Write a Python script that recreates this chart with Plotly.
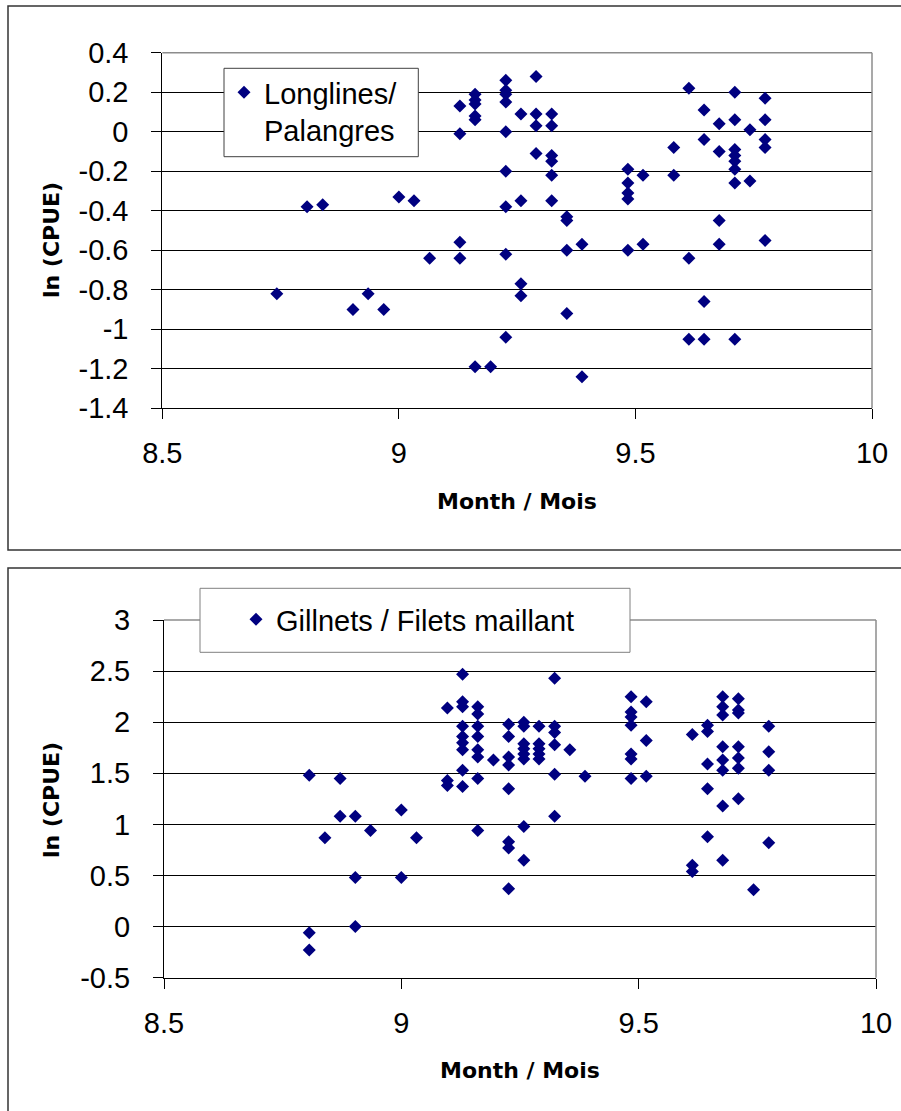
import plotly.graph_objects as go

W, H = 901, 1111

# ---- Data: Longlines / Palangres ----
ll_month = [8.742, 8.806, 8.839, 8.903, 8.935, 8.968, 9.0, 9.032, 9.065,
            9.129, 9.129, 9.129, 9.129,
            9.161, 9.161, 9.161, 9.161, 9.161, 9.161,
            9.194,
            9.226, 9.226, 9.226, 9.226, 9.226, 9.226, 9.226, 9.226, 9.226,
            9.258, 9.258, 9.258, 9.258,
            9.290, 9.290, 9.290, 9.290,
            9.323, 9.323, 9.323, 9.323, 9.323, 9.323,
            9.355, 9.355, 9.355, 9.355,
            9.387, 9.387,
            9.484, 9.484, 9.484, 9.484, 9.484,
            9.516, 9.516,
            9.581, 9.581,
            9.613, 9.613, 9.613,
            9.645, 9.645, 9.645, 9.645,
            9.677, 9.677, 9.677, 9.677,
            9.710, 9.710, 9.710, 9.710, 9.710, 9.710, 9.710, 9.710,
            9.742, 9.742,
            9.774, 9.774, 9.774, 9.774, 9.774]
ll_lncpue = [-0.82, -0.38, -0.37, -0.90, -0.82, -0.90, -0.33, -0.35, -0.64,
             0.13, -0.01, -0.56, -0.64,
             0.19, 0.16, 0.14, 0.08, 0.06, -1.19,
             -1.19,
             0.26, 0.21, 0.19, 0.15, 0.00, -0.20, -0.38, -0.62, -1.04,
             0.09, -0.35, -0.77, -0.83,
             0.28, 0.09, 0.03, -0.11,
             0.09, 0.03, -0.12, -0.15, -0.22, -0.35,
             -0.43, -0.45, -0.60, -0.92,
             -0.57, -1.24,
             -0.19, -0.26, -0.31, -0.34, -0.60,
             -0.22, -0.57,
             -0.08, -0.22,
             0.22, -0.64, -1.05,
             0.11, -0.04, -0.86, -1.05,
             0.04, -0.10, -0.45, -0.57,
             0.20, 0.06, -0.09, -0.12, -0.15, -0.19, -0.26, -1.05,
             0.01, -0.25,
             0.17, 0.06, -0.04, -0.08, -0.55]

# ---- Data: Gillnets / Filets maillant ----
gn_month = [8.806, 8.806, 8.806, 8.839, 8.871, 8.871,
            8.903, 8.903, 8.903, 8.935, 9.0, 9.0, 9.032,
            9.097, 9.097, 9.097,
            9.129, 9.129, 9.129, 9.129, 9.129, 9.129, 9.129, 9.129, 9.129,
            9.161, 9.161, 9.161, 9.161, 9.161, 9.161, 9.161, 9.161,
            9.194,
            9.226, 9.226, 9.226, 9.226, 9.226, 9.226, 9.226, 9.226,
            9.258, 9.258, 9.258, 9.258, 9.258, 9.258, 9.258, 9.258,
            9.290, 9.290, 9.290, 9.290, 9.290,
            9.323, 9.323, 9.323, 9.323, 9.323, 9.323,
            9.355, 9.387,
            9.484, 9.484, 9.484, 9.484, 9.484, 9.484, 9.484,
            9.516, 9.516, 9.516,
            9.613, 9.613, 9.613,
            9.645, 9.645, 9.645, 9.645, 9.645,
            9.677, 9.677, 9.677, 9.677, 9.677, 9.677, 9.677, 9.677,
            9.710, 9.710, 9.710, 9.710, 9.710, 9.710, 9.710,
            9.742,
            9.774, 9.774, 9.774, 9.774]
gn_lncpue = [1.48, -0.06, -0.23, 0.87, 1.45, 1.08,
             1.08, 0.48, 0.00, 0.94, 1.14, 0.48, 0.87,
             2.14, 1.43, 1.38,
             2.47, 2.20, 2.15, 1.96, 1.86, 1.80, 1.73, 1.53, 1.37,
             2.15, 2.08, 1.96, 1.86, 1.73, 1.66, 1.45, 0.94,
             1.63,
             1.98, 1.86, 1.66, 1.58, 1.35, 0.83, 0.77, 0.37,
             2.00, 1.96, 1.79, 1.74, 1.69, 1.64, 0.98, 0.65,
             1.96, 1.79, 1.74, 1.69, 1.64,
             2.43, 1.96, 1.90, 1.78, 1.49, 1.08,
             1.73, 1.47,
             2.25, 2.10, 2.05, 1.97, 1.69, 1.64, 1.45,
             2.20, 1.82, 1.47,
             1.88, 0.60, 0.54,
             1.97, 1.91, 1.59, 1.35, 0.88,
             2.25, 2.15, 2.07, 1.76, 1.63, 1.53, 1.18, 0.65,
             2.23, 2.12, 2.09, 1.76, 1.65, 1.55, 1.25,
             0.36,
             1.96, 1.71, 1.53, 0.82]

# ---- Tick labels ----
x_tickvals = [8.5, 9, 9.5, 10]
x_ticktext = ["8.5", "9", "9.5", "10"]
top_y_tickvals = [0.4, 0.2, 0, -0.2, -0.4, -0.6, -0.8, -1, -1.2, -1.4]
top_y_ticktext = ["0.4", "0.2", "0", "-0.2", "-0.4", "-0.6", "-0.8", "-1", "-1.2", "-1.4"]
bot_y_tickvals = [3, 2.5, 2, 1.5, 1, 0.5, 0, -0.5]
bot_y_ticktext = ["3", "2.5", "2", "1.5", "1", "0.5", "0", "-0.5"]

FONT = "Liberation Sans, Arial, sans-serif"
TITLE_FONT = "DejaVu Sans, Liberation Sans, sans-serif"
NAVY = "#000080"


def px(p):
    return p / W


def py(p):
    return 1 - p / H


fig = go.Figure()
fig.add_trace(go.Scatter(
    x=ll_month, y=ll_lncpue, mode="markers", name="Longlines/<br>Palangres",
    marker=dict(symbol="diamond", size=10, color=NAVY, line=dict(width=0)),
    xaxis="x", yaxis="y", legend="legend", showlegend=True))
fig.add_trace(go.Scatter(
    x=gn_month, y=gn_lncpue, mode="markers", name="Gillnets / Filets maillant",
    marker=dict(symbol="diamond", size=10, color=NAVY, line=dict(width=0)),
    xaxis="x2", yaxis="y2", legend="legend2", showlegend=True))

common_x = dict(tickmode="array", tickvals=x_tickvals, ticktext=x_ticktext,
                ticks="outside", ticklen=10, tickcolor="black", tickwidth=1,
                showline=True, linecolor="black", linewidth=1,
                showgrid=False, zeroline=False,
                tickfont=dict(family=FONT, size=29, color="black"),
                ticklabelstandoff=9, range=[8.5, 10], fixedrange=True)
common_y = dict(tickmode="array", ticks="outside", ticklen=10, tickcolor="black",
                tickwidth=1, showline=True, linecolor="black", linewidth=1,
                showgrid=True, gridcolor="black", gridwidth=1, zeroline=False,
                tickfont=dict(family=FONT, size=29, color="black"),
                ticklabelstandoff=17, fixedrange=True)

fig.update_layout(
    width=W, height=H, showlegend=True,
    margin=dict(l=0, r=0, t=0, b=0, autoexpand=False),
    paper_bgcolor="white", plot_bgcolor="white",
    font=dict(family=FONT, color="black"),
    xaxis=dict(common_x, domain=[px(162.3), px(872)], anchor="y"),
    yaxis=dict(common_y, domain=[py(408.3), py(52.7)], anchor="x",
               range=[-1.4, 0.4], tickvals=top_y_tickvals, ticktext=top_y_ticktext),
    xaxis2=dict(common_x, domain=[px(164), px(876)], anchor="y2"),
    yaxis2=dict(common_y, domain=[py(977.7), py(620)], anchor="x2",
                range=[-0.5, 3], tickvals=bot_y_tickvals, ticktext=bot_y_ticktext),
    legend=dict(x=px(224), y=py(67), xanchor="left", yanchor="top",
                bgcolor="rgba(0,0,0,0)", borderwidth=0, valign="top",
                font=dict(family=FONT, size=29, color="black")),
    legend2=dict(x=px(236), y=py(594), xanchor="left", yanchor="top",
                 bgcolor="rgba(0,0,0,0)", borderwidth=0,
                 font=dict(family=FONT, size=29, color="black")),
)

shapes = []
# chart frames
shapes.append(dict(type="rect", xref="paper", yref="paper",
                   x0=px(8), x1=1.01, y0=py(550), y1=py(6),
                   line=dict(color="#333333", width=1.5), fillcolor="rgba(0,0,0,0)"))
shapes.append(dict(type="rect", xref="paper", yref="paper",
                   x0=px(8), x1=1.01, y0=-0.01, y1=py(568),
                   line=dict(color="#333333", width=1.5), fillcolor="rgba(0,0,0,0)"))
# gray plot-area border (top & right)
for xa, ya in (("x", "y"), ("x2", "y2")):
    shapes.append(dict(type="line", xref=f"{xa} domain", yref=f"{ya} domain",
                       x0=0, x1=1, y0=1, y1=1, layer="above",
                       line=dict(color="#8c8c8c", width=1.5)))
    shapes.append(dict(type="line", xref=f"{xa} domain", yref=f"{ya} domain",
                       x0=1, x1=1, y0=0, y1=1, layer="above",
                       line=dict(color="#8c8c8c", width=1.5)))
# legend boxes
shapes.append(dict(type="rect", xref="paper", yref="paper",
                   x0=px(224), x1=px(418.3), y0=py(156.7), y1=py(68.3), layer="above",
                   line=dict(color="#404040", width=1), fillcolor="white"))
shapes.append(dict(type="rect", xref="paper", yref="paper",
                   x0=px(200), x1=px(630), y0=py(652.3), y1=py(588.3), layer="above",
                   line=dict(color="#808080", width=1), fillcolor="white"))
fig.update_layout(shapes=shapes)

ann = []
title_font = dict(family=TITLE_FONT, size=22, color="black")
ann.append(dict(text="<b>Month / Mois</b>", xref="paper", yref="paper",
                x=px(517), y=py(501), xanchor="center", yanchor="middle",
                showarrow=False, font=title_font))
ann.append(dict(text="<b>Month / Mois</b>", xref="paper", yref="paper",
                x=px(520), y=py(1070), xanchor="center", yanchor="middle",
                showarrow=False, font=title_font))
ann.append(dict(text="<b>ln (CPUE)</b>", xref="paper", yref="paper",
                x=px(51), y=py(240), xanchor="center", yanchor="middle",
                textangle=-90, showarrow=False, font=title_font))
ann.append(dict(text="<b>ln (CPUE)</b>", xref="paper", yref="paper",
                x=px(51), y=py(800), xanchor="center", yanchor="middle",
                textangle=-90, showarrow=False, font=title_font))
fig.update_layout(annotations=ann)

fig.write_html("out.html")
